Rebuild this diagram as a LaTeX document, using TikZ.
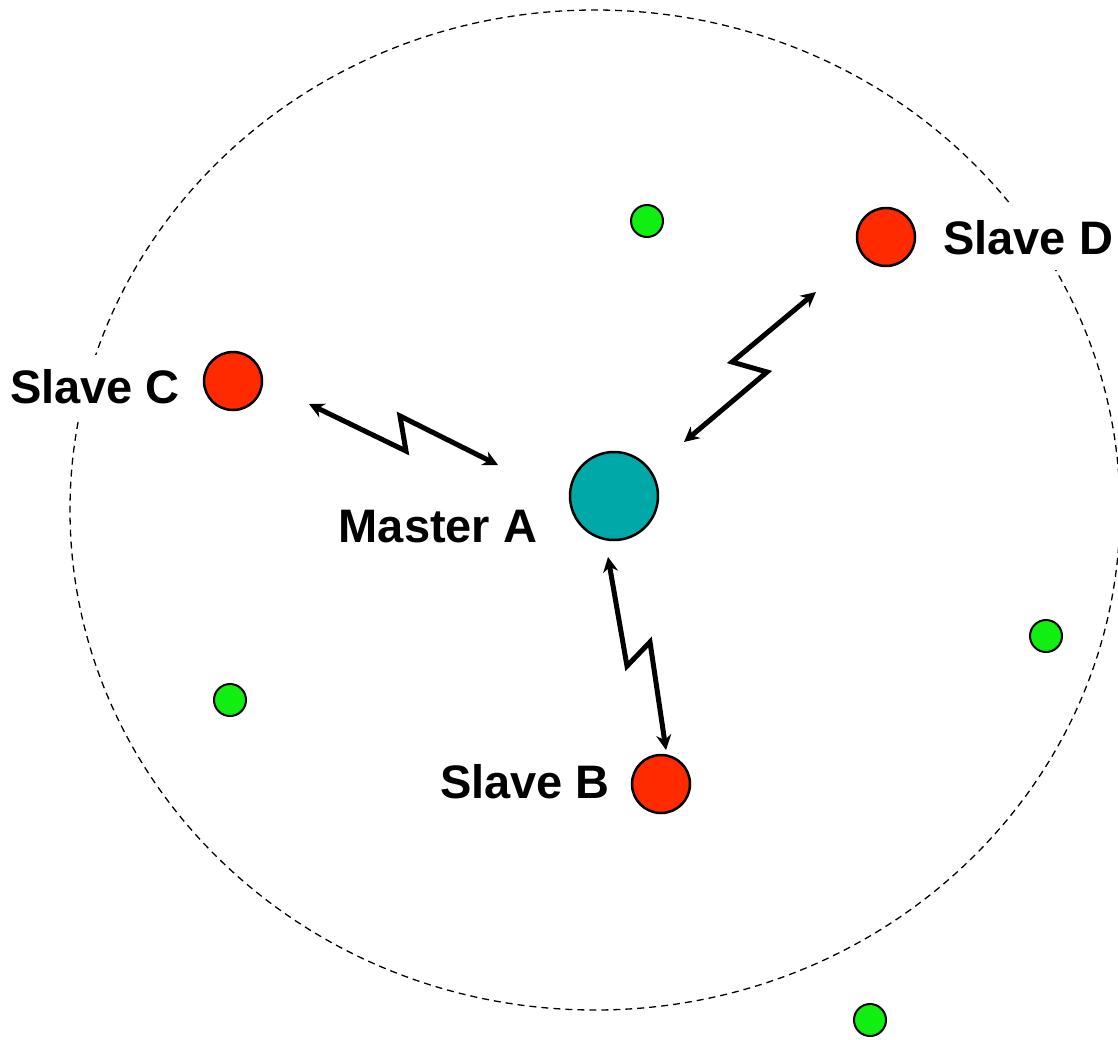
\documentclass[tikz,border=0pt]{standalone}
\usepackage{fontspec}
\setmainfont{Liberation Sans}
\usetikzlibrary{arrows.meta}
\definecolor{slavered}{HTML}{FF2A00}
\definecolor{masterteal}{HTML}{00A8A8}
\definecolor{dotgreen}{HTML}{11EE11}
\begin{document}
\begin{tikzpicture}[x=1pt,y=-1pt,
  slave/.style={circle,draw=black,line width=2.5pt,fill=slavered,minimum size=58pt,inner sep=0pt},
  master/.style={circle,draw=black,line width=2.5pt,fill=masterteal,minimum size=88pt,inner sep=0pt},
  device/.style={circle,draw=black,line width=2pt,fill=dotgreen,minimum size=32pt,inner sep=0pt},
  lbl/.style={fill=white,inner xsep=3pt,inner ysep=15pt,font=\fontsize{47}{50}\selectfont\bfseries},
  bolt/.style={line width=5pt,line join=miter,{Stealth[length=15pt,width=15pt]}-{Stealth[length=15pt,width=15pt]}}
  ]
\useasboundingbox (0,0) rectangle (1118,1039);
\draw[dashed,line width=1.3pt,dash pattern=on 7pt off 5pt] (595,510) ellipse [x radius=525, y radius=500];
% nodes
\node[master] (A) at (614,496) {};
\node[slave] (D) at (886,237) {};
\node[slave] (C) at (233,381) {};
\node[slave] (B) at (661,784) {};
\node[device] (g1) at (647,221) {};
\node[device] (g2) at (230,700) {};
\node[device] (g3) at (1046,636) {};
\node[device] (g4) at (870,1020) {};
% labels
\node[lbl,anchor=west] (lD) at (940,238) {Slave D};
\node[lbl] (lC) at (95,387) {Slave C};
\node[lbl] (lA) at (438,527) {Master A};
\node[lbl] (lB) at (525,782) {Slave B};
% bolt endpoints
\coordinate (cC) at (309,404);
\coordinate (cAc) at (498,465);
\coordinate (cAd) at (684,442);
\coordinate (cD) at (816,292);
\coordinate (cAb) at (608,557);
\coordinate (cB) at (666,750);
% bolts
\draw[bolt] (cC) -- (406,451) -- (400,416) -- (cAc);
\draw[bolt] (cAd) -- (767,372) -- (732,362) -- (cD);
\draw[bolt] (cAb) -- (627,666) -- (650,642) -- (cB);
\end{tikzpicture}
\end{document}
